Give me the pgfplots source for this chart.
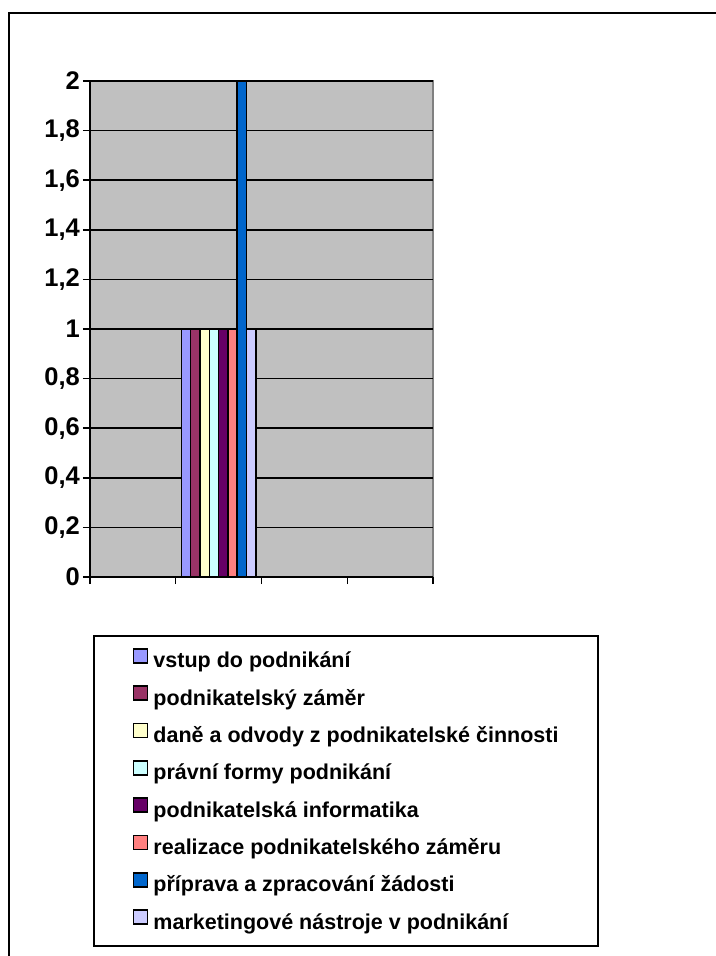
\documentclass[border=0pt]{standalone}
\usepackage{fontspec}
\setmainfont{Liberation Sans}
\usepackage{pgfplots}
\pgfplotsset{compat=1.18}
\usetikzlibrary{calc}
\definecolor{cA}{HTML}{9999FF}
\definecolor{cB}{HTML}{993366}
\definecolor{cC}{HTML}{FFFFCC}
\definecolor{cD}{HTML}{CCFFFF}
\definecolor{cE}{HTML}{660066}
\definecolor{cF}{HTML}{FF8080}
\definecolor{cG}{HTML}{0066CC}
\definecolor{cH}{HTML}{CCCCFF}
\definecolor{plotgray}{HTML}{C0C0C0}
\definecolor{framegray}{HTML}{808080}
\newcommand{\chartfont}{\fontsize{21.5}{25}\selectfont\bfseries}
\newcommand{\tickfont}{\fontsize{25.5}{29}\selectfont\bfseries}
\begin{document}
\chartfont
\begin{tikzpicture}
\begin{axis}[
  scale only axis, width=343pt, height=496pt,
  xmin=0, xmax=4, ymin=0, ymax=2,
  axis lines=left,
  axis line style={-, line width=1.5pt, black},
  axis background/.style={fill=plotgray, draw=framegray, line width=2pt},
  xtick={0,1,2,3,4}, xticklabels={},
  ytick={0,0.2,0.4,0.6,0.8,1,1.2,1.4,1.6,1.8,2},
  ymajorgrids, major grid style={black, line width=1.5pt},
  tick style={black, line width=1.5pt},
  tick align=outside, major tick length=7pt,
  yticklabel style={font=\tickfont, inner sep=3pt},
  /pgf/number format/use comma,
  /pgf/number format/fixed,
  /pgf/number format/precision=1,
  /pgf/number format/assume math mode=true,
  ybar=0pt, bar width=9.3pt,
  legend image code/.code={\draw[#1] (0pt,0pt) rectangle (14pt,14pt);},
  legend cell align=left,
  legend style={at={(0.00875,-0.117)}, anchor=north west,
    draw=black, line width=2pt, font=\chartfont,
    inner xsep=39pt, inner ysep=12pt,
    row sep=12.6pt, column sep=5pt,
    nodes={inner sep=0pt, text height=15pt, text depth=5pt}},
  every axis plot/.append style={draw=black, line width=1.5pt},
]
\addplot[fill=cA] coordinates {(1.5,1)};
\addplot[fill=cB] coordinates {(1.5,1)};
\addplot[fill=cC] coordinates {(1.5,1)};
\addplot[fill=cD] coordinates {(1.5,1)};
\addplot[fill=cE] coordinates {(1.5,1)};
\addplot[fill=cF] coordinates {(1.5,1)};
\addplot[fill=cG] coordinates {(1.5,2)};
\addplot[fill=cH] coordinates {(1.5,1)};
\legend{vstup do podnikání,
podnikatelský záměr,
daně a odvody z podnikatelské činnosti,
právní formy podnikání,
podnikatelská informatika,
realizace podnikatelského záměru,
příprava a zpracování žádosti,
marketingové nástroje v podnikání}
\coordinate (O) at (axis cs:0,0);
\end{axis}
\pgfresetboundingbox
\path[use as bounding box] ($(O)+(-90pt,-379pt)$) rectangle ($(O)+(625pt,577pt)$);
\draw[line width=2pt] ($(O)+(-81pt,-380pt)$) -- ($(O)+(-81pt,564pt)$) -- ($(O)+(626pt,564pt)$);
\end{tikzpicture}
\end{document}
